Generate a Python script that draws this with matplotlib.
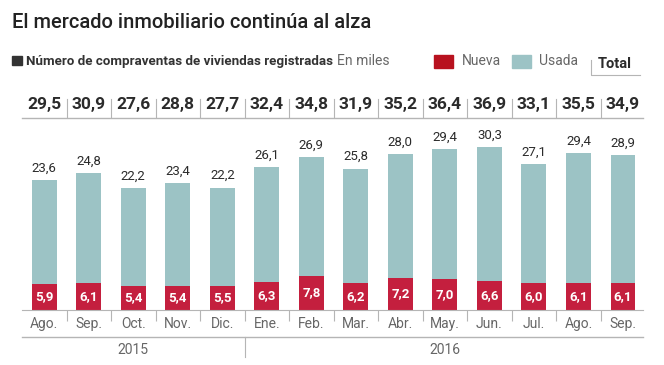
import matplotlib
matplotlib.use("Agg")
import matplotlib.pyplot as plt
import matplotlib.transforms as mtransforms
from matplotlib.lines import Line2D
from matplotlib.patches import Rectangle
import numpy as np

months = ["Ago.", "Sep.", "Oct.", "Nov.", "Dic.", "Ene.", "Feb.", "Mar.",
          "Abr.", "May.", "Jun.", "Jul.", "Ago.", "Sep."]
nueva = [5.9, 6.1, 5.4, 5.4, 5.5, 6.3, 7.8, 6.2, 7.2, 7.0, 6.6, 6.0, 6.1, 6.1]
usada = [23.6, 24.8, 22.2, 23.4, 22.2, 26.1, 26.9, 25.8, 28.0, 29.4, 30.3, 27.1, 29.4, 28.9]
totals = ["29,5", "30,9", "27,6", "28,8", "27,7", "32,4", "34,8", "31,9",
          "35,2", "36,4", "36,9", "33,1", "35,5", "34,9"]
years = ["2015", "2016"]
year_span = [(0, 4), (5, 13)]

RED = "#c41f3e"
TEAL = "#9cc3c5"
DARK = "#2b2b2b"
GREY = "#666666"
LINE = "#b5b5b5"

plt.rcParams["font.family"] = ["Roboto", "DejaVu Sans"]

W, H = 664, 365
fig = plt.figure(figsize=(W / 100, H / 100), dpi=100)
# pixel transform, origin top-left
pix = mtransforms.Affine2D().scale(1 / W, -1 / H).translate(0, 1) + fig.transFigure

# bars axes
x0, x1 = 22, 643
base, top = 310, 60
ax = fig.add_axes([x0 / W, (H - base) / H, (x1 - x0) / W, (base - top) / H])
scale = 4.42
ax.set_xlim(-0.5, 13.45)
ax.set_ylim(0, (base - top) / scale)

x = np.arange(len(months))
ax.bar(x, nueva, width=0.56, color=RED, zorder=2)
ax.bar(x, usada, width=0.56, bottom=nueva, color=TEAL, zorder=2)

for i in range(len(months)):
    ax.text(x[i], nueva[i] / 2, f"{nueva[i]:.1f}".replace(".", ","), ha="center", va="center",
            color="white", fontsize=9.5, fontweight="bold")
    ax.text(x[i], nueva[i] + usada[i] + 1.2, f"{usada[i]:.1f}".replace(".", ","), ha="center",
            va="bottom", color=DARK, fontsize=9.5)

for s in ["top", "right", "left"]:
    ax.spines[s].set_visible(False)
ax.spines["bottom"].set_color(LINE)
ax.set_yticks([])
ax.set_xticks(x)
ax.set_xticklabels(months, fontsize=10, color=GREY)
ax.tick_params(axis="x", length=0, pad=5)
ax.set_xticks(x[:-1] + 0.5, minor=True)
ax.tick_params(axis="x", which="minor", length=8, color=LINE, width=0.8)

# totals row
blend = mtransforms.blended_transform_factory(ax.transData, pix)
for i, t in enumerate(totals):
    ax.text(x[i], 104, t, transform=blend, ha="center", va="center", fontsize=12.5,
            fontweight="bold", color=DARK)
for b in x[:-1] + 0.5:
    fig.add_artist(Line2D([b, b], [99, 117], transform=blend, color=LINE, lw=0.8))
fig.add_artist(Line2D([x0, x1], [117.5, 117.5], transform=pix, color=LINE, lw=1))

# years
fig.add_artist(Line2D([x0, x1], [337, 337], transform=pix, color=LINE, lw=1))
fig.add_artist(Line2D([4.5, 4.5], [337, 357], transform=blend, color=LINE, lw=0.8))
for label, (a, b) in zip(years, year_span):
    ax.text((a + b) / 2, 350, label, transform=blend, ha="center", va="center",
            fontsize=10, color=GREY)

# title and subtitle
fig.text(12 / W, 1 - 22 / H, "El mercado inmobiliario continúa al alza", fontsize=14.5,
         fontweight=500, color="#222222", va="center", ha="left")
fig.add_artist(Rectangle((12, 56), 10, 9, transform=pix, color="#333333"))
t1 = fig.text(26 / W, 1 - 61 / H, "Número de compraventas de viviendas registradas",
              fontsize=9.6, fontweight="bold", color="#333333", va="center")
fig.canvas.draw()
bb = t1.get_window_extent()
fig.text((bb.x1 + 4) / W, 1 - 61 / H, "En miles", fontsize=10, color=GREY, va="center")

# legend
fig.add_artist(Rectangle((434, 55), 19, 13, transform=pix, color="#b8121f"))
fig.text(462 / W, 1 - 61 / H, "Nueva", fontsize=10, color=GREY, va="center")
fig.add_artist(Rectangle((512, 55), 19, 13, transform=pix, color=TEAL))
fig.text(539 / W, 1 - 61 / H, "Usada", fontsize=10, color=GREY, va="center")
fig.text(615 / W, 1 - 64 / H, "Total", fontsize=10.5, fontweight="bold", color=DARK,
         va="center", ha="center")
fig.add_artist(Line2D([591, 591, 640], [60, 75, 75], transform=pix, color=LINE, lw=0.8))

fig.savefig("out.png", dpi=100, facecolor="white")
